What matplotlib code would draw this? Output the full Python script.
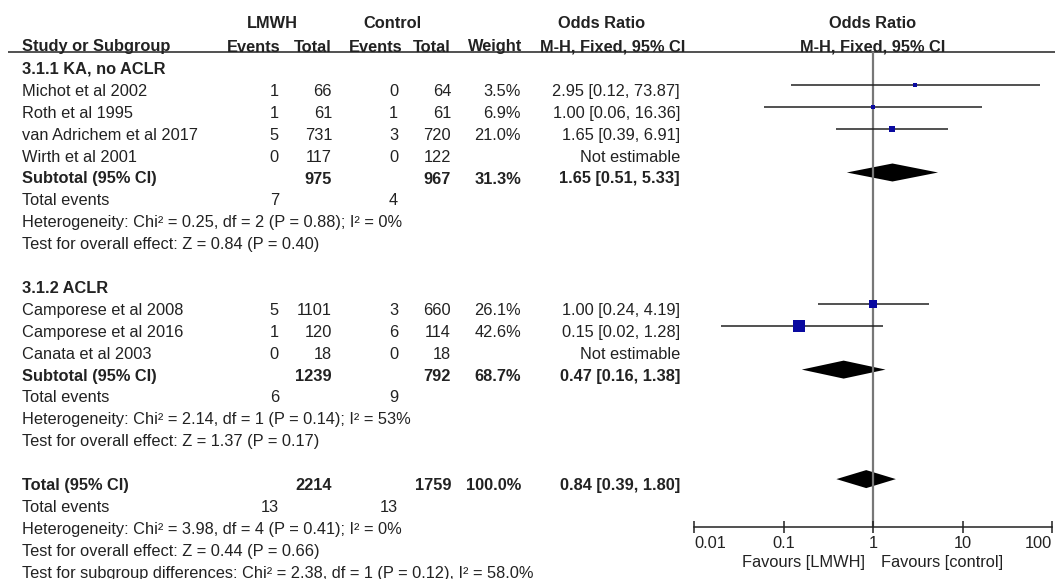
import matplotlib
matplotlib.use("Agg")
import matplotlib.pyplot as plt
from matplotlib.ticker import NullLocator

# study level data
studies = ["Michot et al 2002", "Roth et al 1995", "van Adrichem et al 2017", "Wirth et al 2001",
           "Camporese et al 2008", "Camporese et al 2016", "Canata et al 2003"]
study_group = [0, 0, 0, 0, 1, 1, 1]
lmwh_events = [1, 1, 5, 0, 5, 1, 0]
lmwh_total = [66, 61, 731, 117, 1101, 120, 18]
ctl_events = [0, 1, 3, 0, 3, 6, 0]
ctl_total = [64, 61, 720, 122, 660, 114, 18]
weight = [3.5, 6.9, 21.0, None, 26.1, 42.6, None]
odds = [2.95, 1.00, 1.65, None, 1.00, 0.15, None]
ci_lo = [0.12, 0.06, 0.39, None, 0.24, 0.02, None]
ci_hi = [73.87, 16.36, 6.91, None, 4.19, 1.28, None]

# subgroup data
groups = ["3.1.1 KA, no ACLR", "3.1.2 ACLR"]
sub_lmwh_total = [975, 1239]
sub_ctl_total = [967, 792]
sub_weight = [31.3, 68.7]
sub_odds = [1.65, 0.47]
sub_lo = [0.51, 0.16]
sub_hi = [5.33, 1.38]
sub_lmwh_events = [7, 6]
sub_ctl_events = [4, 9]
sub_het = ["Heterogeneity: Chi² = 0.25, df = 2 (P = 0.88); I² = 0%",
           "Heterogeneity: Chi² = 2.14, df = 1 (P = 0.14); I² = 53%"]
sub_effect = ["Test for overall effect: Z = 0.84 (P = 0.40)",
              "Test for overall effect: Z = 1.37 (P = 0.17)"]

# overall
tot_lmwh, tot_ctl, tot_weight = 2214, 1759, 100.0
tot_odds, tot_lo, tot_hi = 0.84, 0.39, 1.80
tot_ev_lmwh, tot_ev_ctl = 13, 13
tot_het = "Heterogeneity: Chi² = 3.98, df = 4 (P = 0.41); I² = 0%"
tot_effect = "Test for overall effect: Z = 0.44 (P = 0.66)"
sub_diff = "Test for subgroup differences: Chi² = 2.38, df = 1 (P = 0.12), I² = 58.0%"

ticks = [0.01, 0.1, 1, 10, 100]
tick_labels = ["0.01", "0.1", "1", "10", "100"]

plt.rcParams['font.family'] = ['Liberation Sans', 'DejaVu Sans']
FS = 11.8
TC = '#222222'
W, H = 1055, 579

fig = plt.figure(figsize=(W / 100, H / 100), dpi=100)
ax = fig.add_axes([0, 0, 1, 1])
ax.set_xlim(0, W)
ax.set_ylim(H, 0)
ax.axis('off')

fx0, fx1 = 694, 1052
fa = fig.add_axes([fx0 / W, 0, (fx1 - fx0) / W, 1])
fa.set_facecolor('none')
fa.set_xscale('log')
fa.set_xlim(0.01, 100)
fa.set_ylim(H, 0)

# column x positions (pixels)
X_STUDY = 22
X_LEV, X_LTOT, X_CEV, X_CTOT, X_W, X_OR = 279, 332, 398, 451, 521, 680


def txt(x, y, s, ha='left', bold=False):
    ax.text(x, y, s, ha=ha, va='center', fontsize=FS, color=TC,
            fontweight='bold' if bold else 'normal')


# headers
HY1, HY2 = 24, 47
txt(272, HY1, "LMWH", 'center', True)
txt(392, HY1, "Control", 'center', True)
txt(602, HY1, "Odds Ratio", 'center', True)
txt(X_STUDY, HY2, "Study or Subgroup", bold=True)
txt(281, HY2, "Events", 'right', True)
txt(332, HY2, "Total", 'right', True)
txt(403, HY2, "Events", 'right', True)
txt(451, HY2, "Total", 'right', True)
txt(522, HY2, "Weight", 'right', True)
txt(685, HY2, "M-H, Fixed, 95% CI", 'right', True)
fa.text(1, HY1, "Odds Ratio", ha='center', va='center', fontsize=FS, color=TC, fontweight='bold')
fa.text(1, HY2, "M-H, Fixed, 95% CI", ha='center', va='center', fontsize=FS, color=TC, fontweight='bold')
ax.hlines(52, 8, W, color='#333333', lw=1.2)

Y0, DY = 69.5, 21.9
OFF = -6.5  # plot marks sit slightly above text centres
MCOL = '#0a0aa0'


def row_y(i):
    return Y0 + i * DY


def diamond(y, est, lo, hi):
    fa.fill([lo, est, hi, est], [y, y - 9, y, y + 9], color='black', lw=0)


def fmt_ci(o, l, h):
    return f"{o:.2f} [{l:.2f}, {h:.2f}]"


r = 0
for g, gname in enumerate(groups):
    txt(X_STUDY, row_y(r), gname, bold=True)
    r += 1
    for k in range(len(studies)):
        if study_group[k] != g:
            continue
        y = row_y(r)
        txt(X_STUDY, y, studies[k])
        txt(X_LEV, y, str(lmwh_events[k]), 'right')
        txt(X_LTOT, y, str(lmwh_total[k]), 'right')
        txt(X_CEV, y, str(ctl_events[k]), 'right')
        txt(X_CTOT, y, str(ctl_total[k]), 'right')
        if odds[k] is None:
            txt(X_OR, y, "Not estimable", 'right')
        else:
            txt(X_W, y, f"{weight[k]:.1f}%", 'right')
            txt(X_OR, y, fmt_ci(odds[k], ci_lo[k], ci_hi[k]), 'right')
            fa.hlines(y + OFF, ci_lo[k], ci_hi[k], color='#222222', lw=1.1)
            side = max(4, weight[k] * 0.29) * 0.72
            fa.scatter([odds[k]], [y + OFF], marker='s', s=side ** 2, color=MCOL, lw=0, zorder=3)
        r += 1
    y = row_y(r)
    txt(X_STUDY, y, "Subtotal (95% CI)", bold=True)
    txt(X_LTOT, y, str(sub_lmwh_total[g]), 'right', True)
    txt(X_CTOT, y, str(sub_ctl_total[g]), 'right', True)
    txt(X_W, y, f"{sub_weight[g]:.1f}%", 'right', True)
    txt(X_OR, y, fmt_ci(sub_odds[g], sub_lo[g], sub_hi[g]), 'right', True)
    diamond(y + OFF, sub_odds[g], sub_lo[g], sub_hi[g])
    r += 1
    y = row_y(r)
    txt(X_STUDY, y, "Total events")
    txt(X_LEV, y, str(sub_lmwh_events[g]), 'right')
    txt(X_CEV, y, str(sub_ctl_events[g]), 'right')
    r += 1
    txt(X_STUDY, row_y(r), sub_het[g])
    r += 1
    txt(X_STUDY, row_y(r), sub_effect[g])
    r += 2

y = row_y(r)
txt(X_STUDY, y, "Total (95% CI)", bold=True)
txt(X_LTOT, y, str(tot_lmwh), 'right', True)
txt(X_CTOT, y, str(tot_ctl), 'right', True)
txt(X_W, y, f"{tot_weight:.1f}%", 'right', True)
txt(X_OR, y, fmt_ci(tot_odds, tot_lo, tot_hi), 'right', True)
diamond(y + OFF, tot_odds, tot_lo, tot_hi)
r += 1
y = row_y(r)
txt(X_STUDY, y, "Total events")
txt(X_LEV, y, str(tot_ev_lmwh), 'right')
txt(X_CEV, y, str(tot_ev_ctl), 'right')
r += 1
txt(X_STUDY, row_y(r), tot_het)
r += 1
txt(X_STUDY, row_y(r), tot_effect)
r += 1
txt(X_STUDY, row_y(r), sub_diff)

# forest axis
AXY = 527
fa.vlines(1, 52, AXY, color='#777777', lw=1.6, zorder=1)
for s in ['left', 'right', 'top']:
    fa.spines[s].set_visible(False)
fa.spines['bottom'].set_position(('data', AXY))
fa.spines['bottom'].set_color('#222222')
fa.spines['bottom'].set_linewidth(1.1)
fa.set_yticks([])
fa.set_xticks(ticks)
fa.set_xticklabels(tick_labels)
fa.xaxis.set_minor_locator(NullLocator())
fa.tick_params(axis='x', which='major', direction='inout', length=8.6, width=1.1,
               labelsize=FS, pad=2.5, colors='#222222', labelcolor=TC)
labs = fa.get_xticklabels()
labs[0].set_horizontalalignment('left')
labs[-1].set_horizontalalignment('right')
txt(865, 563, "Favours [LMWH]", 'right')
txt(881, 563, "Favours [control]", 'left')

fig.savefig("out.png", dpi=100)
